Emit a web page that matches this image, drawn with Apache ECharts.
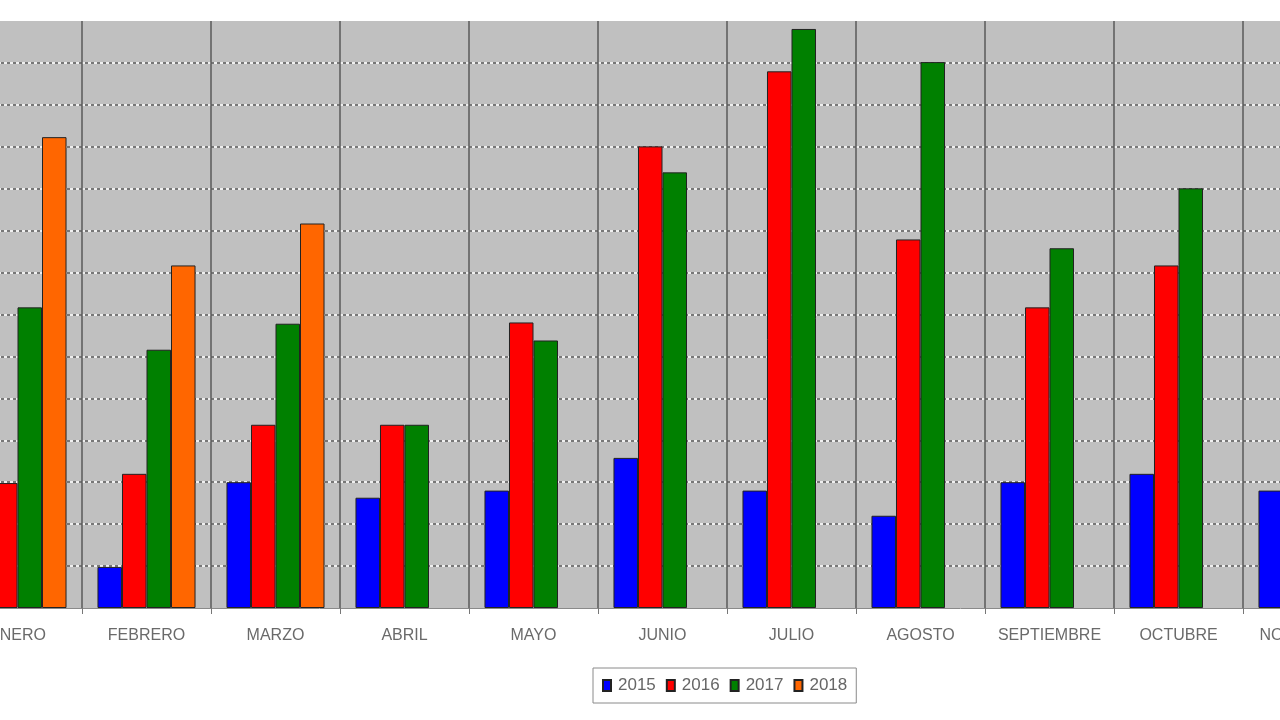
<!DOCTYPE html>
<html lang="es">
  <head>
    <meta charset="UTF-8" />
    <title>Ventas mensuales</title>
    <style>
      html, body { margin: 0; padding: 0; background: #fff; }
    </style>
  </head>
  <body>
    <div id="main" style="width: 1280px; height: 720px"></div>

    <script src="https://cdn.jsdelivr.net/npm/echarts@6.0.0/dist/echarts.min.js"></script>
    <script>
      // ===== datos =====
      const meses = ['ENERO', 'FEBRERO', 'MARZO', 'ABRIL', 'MAYO', 'JUNIO', 'JULIO', 'AGOSTO', 'SEPTIEMBRE', 'OCTUBRE', 'NOVIEMBRE']
      const anios = ['2015', '2016', '2017', '2018']
      const v2015 = [300, 98, 300, 263, 280, 358, 280, 220, 300, 320, 280]
      const v2016 = [298, 320, 437, 437, 681, 1101, 1280, 879, 717, 817, 700]
      const v2017 = [717, 616, 678, 437, 638, 1039, 1381, 1302, 858, 1001, 900]
      const v2018 = [1123, 817, 917, '-', '-', '-', '-', '-', '-', '-', '-']
      const colores = ['#0000ff', '#ff0000', '#008000', '#ff6600']

      window.onload = function () {
        const myChart = echarts.init(document.getElementById('main'))

        const valores = [v2015, v2016, v2017, v2018]
        const series = anios.map((anio, i) => ({
          name: anio,
          type: 'bar',
          barGap: 0,
          barCategoryGap: '24%',
          itemStyle: {
            color: colores[i],
            borderColor: '#222',
            borderWidth: 1
          },
          data: valores[i]
        }))

        const option = {
          backgroundColor: '#ffffff',
          animation: false,
          grid: {
            left: -47,
            right: -92,
            top: 21,
            bottom: 112,
            show: true,
            backgroundColor: '#c0c0c0',
            borderWidth: 0,
            containLabel: false,
            outerBoundsMode: 'none'
          },
          legend: {
            left: 593,
            top: 668,
            padding: [9, 9],
            itemGap: 10,
            itemWidth: 8,
            itemHeight: 11,
            icon: 'rect',
            borderColor: '#8a8a8a',
            borderWidth: 1,
            backgroundColor: '#fff',
            textStyle: {
              fontFamily: 'Liberation Sans',
              fontSize: 17,
              color: '#666',
              padding: [0, 0, 0, 2]
            },
            data: anios
          },
          xAxis: {
            type: 'category',
            data: meses,
            z: 0,
            axisLine: { lineStyle: { color: '#8a8a8a', width: 1 } },
            axisTick: { show: true, length: 6, lineStyle: { color: '#777' } },
            axisLabel: {
              interval: 0,
              margin: 20,
              fontFamily: 'Liberation Sans',
              fontSize: 16,
              color: '#6a6a6a'
            },
            splitLine: {
              show: true,
              lineStyle: { color: '#5a5a5a', width: 1.5 }
            }
          },
          yAxis: [
            {
              type: 'value',
              min: 0,
              max: 1400,
              interval: 100,
              axisLabel: { show: false },
              axisLine: { show: false },
              axisTick: { show: false },
              splitLine: {
                show: true,
                showMinLine: false,
                showMaxLine: false,
                lineStyle: { color: '#ffffff', width: 1.5 }
              }
            },
            {
              type: 'value',
              min: 0,
              max: 1400,
              interval: 100,
              position: 'right',
              axisLabel: { show: false },
              axisLine: { show: false },
              axisTick: { show: false },
              splitLine: {
                show: true,
                showMinLine: false,
                showMaxLine: false,
                lineStyle: { color: '#505050', width: 1.5, type: [3, 3] }
              }
            }
          ],
          series: series
        }

        myChart.setOption(option)
      }
    </script>
  </body>
</html>
